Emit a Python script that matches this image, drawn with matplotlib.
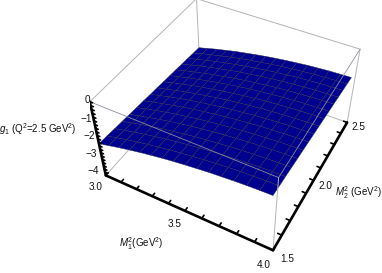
import numpy as np
import matplotlib
matplotlib.use("Agg")
import matplotlib.pyplot as plt

plt.rcParams["font.family"] = "Liberation Sans"
plt.rcParams["mathtext.fontset"] = "custom"
plt.rcParams["mathtext.rm"] = "Liberation Sans"
plt.rcParams["mathtext.it"] = "Liberation Sans:italic"

M1_MIN, M1_MAX = 3.0, 4.0
M2_MIN, M2_MAX = 1.5, 2.5
Z_MIN, Z_MAX = -4.2, 0.0
# camera found by fitting the box corners to the picture
ELEV, AZIM, ROLL = 43.85, -61.41, 0.2
FOCAL = 0.4195
Z_ASPECT = 0.542
SCALE, OFF_X, OFF_Y = 1491.9, 231.3, 159.9

m1_nodes = [3.0, 3.065, 3.13, 3.196, 3.26, 3.327, 3.392, 3.457, 3.523, 3.588, 3.653,
            3.719, 3.784, 3.849, 3.915, 3.98]
m2_nodes = [1.5, 1.567, 1.633, 1.7, 1.767, 1.833, 1.9, 1.967, 2.033, 2.1, 2.167,
            2.233, 2.3, 2.367, 2.433, 2.5]
# g1, one row per m2 node
g1_grid = [
    [-2.27, -2.13, -1.99, -1.86, -1.74, -1.63, -1.53, -1.44, -1.36, -1.29, -1.22, -1.17, -1.12, -1.08, -1.05, -1.03],
    [-2.30, -2.16, -2.02, -1.90, -1.78, -1.67, -1.57, -1.48, -1.40, -1.32, -1.26, -1.20, -1.15, -1.12, -1.09, -1.07],
    [-2.34, -2.19, -2.06, -1.93, -1.81, -1.70, -1.60, -1.51, -1.43, -1.36, -1.29, -1.24, -1.19, -1.15, -1.12, -1.10],
    [-2.37, -2.23, -2.09, -1.96, -1.84, -1.74, -1.64, -1.55, -1.47, -1.40, -1.33, -1.28, -1.23, -1.19, -1.16, -1.14],
    [-2.41, -2.27, -2.13, -2.00, -1.88, -1.77, -1.67, -1.58, -1.50, -1.43, -1.36, -1.31, -1.26, -1.22, -1.19, -1.18],
    [-2.44, -2.30, -2.16, -2.03, -1.91, -1.81, -1.71, -1.62, -1.54, -1.47, -1.40, -1.35, -1.30, -1.26, -1.23, -1.21],
    [-2.47, -2.33, -2.20, -2.07, -1.95, -1.84, -1.74, -1.65, -1.57, -1.50, -1.44, -1.38, -1.34, -1.30, -1.27, -1.25],
    [-2.51, -2.37, -2.23, -2.10, -1.98, -1.88, -1.78, -1.69, -1.61, -1.54, -1.47, -1.42, -1.37, -1.33, -1.31, -1.29],
    [-2.54, -2.40, -2.26, -2.14, -2.02, -1.91, -1.81, -1.72, -1.64, -1.57, -1.51, -1.45, -1.41, -1.37, -1.34, -1.32],
    [-2.58, -2.43, -2.30, -2.17, -2.06, -1.95, -1.85, -1.76, -1.68, -1.61, -1.54, -1.49, -1.44, -1.41, -1.38, -1.36],
    [-2.61, -2.47, -2.33, -2.21, -2.09, -1.98, -1.88, -1.79, -1.71, -1.64, -1.58, -1.52, -1.48, -1.44, -1.42, -1.40],
    [-2.64, -2.50, -2.37, -2.24, -2.13, -2.02, -1.92, -1.83, -1.75, -1.68, -1.61, -1.56, -1.52, -1.48, -1.45, -1.43],
    [-2.68, -2.54, -2.40, -2.28, -2.16, -2.05, -1.95, -1.87, -1.78, -1.71, -1.65, -1.60, -1.55, -1.52, -1.49, -1.47],
    [-2.71, -2.57, -2.44, -2.31, -2.20, -2.09, -1.99, -1.90, -1.82, -1.75, -1.69, -1.63, -1.59, -1.55, -1.52, -1.51],
    [-2.75, -2.60, -2.47, -2.35, -2.23, -2.12, -2.02, -1.94, -1.86, -1.78, -1.72, -1.67, -1.62, -1.59, -1.56, -1.54],
    [-2.78, -2.64, -2.50, -2.38, -2.26, -2.16, -2.06, -1.97, -1.89, -1.82, -1.76, -1.70, -1.66, -1.62, -1.60, -1.58],
]

m1_ticks = [3.0, 3.1, 3.2, 3.3, 3.4, 3.5, 3.6, 3.7, 3.8, 3.9, 4.0]
m2_ticks = [1.5, 1.6, 1.7, 1.8, 1.9, 2.0, 2.1, 2.2, 2.3, 2.4, 2.5]
z_ticks = [0, -0.2, -0.4, -0.6, -0.8, -1, -1.2, -1.4, -1.6, -1.8, -2, -2.2, -2.4,
           -2.6, -2.8, -3, -3.2, -3.4, -3.6, -3.8, -4]

fig = plt.figure(figsize=(3.82, 2.73), dpi=100)
side = SCALE * 0.185
left = OFF_X - SCALE * 0.095
bottom = OFF_Y - SCALE * 0.095
ax = fig.add_axes([left / 382, bottom / 273, side / 382, side / 273], projection="3d")
ax.computed_zorder = False
ax.view_init(ELEV, AZIM, ROLL)
ax.set_proj_type("persp", focal_length=FOCAL)
ax.set_box_aspect((1, 1, Z_ASPECT))
ax.set_axis_off()

GREY = "#b4b4b4"


def edge(xs, ys, zs, zorder, color=GREY, lw=0.7):
    ax.plot(xs, ys, zs, color=color, lw=lw, zorder=zorder, solid_capstyle="round")


# box edges that sit behind the surface
edge([M1_MIN, M1_MIN], [M2_MIN, M2_MAX], [Z_MIN, Z_MIN], 1)
edge([M1_MIN, M1_MAX], [M2_MAX, M2_MAX], [Z_MIN, Z_MIN], 1)
edge([M1_MIN, M1_MIN], [M2_MAX, M2_MAX], [Z_MIN, Z_MAX], 1)
edge([M1_MIN, M1_MIN], [M2_MIN, M2_MAX], [Z_MAX, Z_MAX], 1)
edge([M1_MIN, M1_MAX], [M2_MAX, M2_MAX], [Z_MAX, Z_MAX], 1)
edge([M1_MAX, M1_MAX], [M2_MAX, M2_MAX], [Z_MIN, Z_MAX], 1)

M1, M2 = np.meshgrid(m1_nodes, m2_nodes)
ax.plot_surface(M1, M2, np.array(g1_grid), rstride=1, cstride=1, color="#00008e", shade=False,
                edgecolor="#2a2a50", linewidth=0.3, zorder=2)

# box edges in front of the surface
edge([M1_MIN, M1_MAX], [M2_MIN, M2_MIN], [Z_MAX, Z_MAX], 3, "#8c8ca0", 0.6)
edge([M1_MAX, M1_MAX], [M2_MIN, M2_MAX], [Z_MAX, Z_MAX], 3, "#8c8ca0", 0.6)
edge([M1_MAX, M1_MAX], [M2_MIN, M2_MIN], [Z_MIN, Z_MAX], 3)

# heavy axes with their ticks
edge([M1_MIN, M1_MAX], [M2_MIN, M2_MIN], [Z_MIN, Z_MIN], 4, "black", 1.9)
edge([M1_MAX, M1_MAX], [M2_MIN, M2_MAX], [Z_MIN, Z_MIN], 4, "black", 1.9)
edge([M1_MIN, M1_MIN], [M2_MIN, M2_MIN], [Z_MIN, Z_MAX], 4, "black", 1.9)
for v in m1_ticks:
    edge([v, v], [M2_MIN, M2_MIN + 0.022], [Z_MIN, Z_MIN], 4, "black", 1.2)
for v in m2_ticks:
    edge([M1_MAX, M1_MAX - 0.022], [v, v], [Z_MIN, Z_MIN], 4, "black", 1.2)
for v in z_ticks:
    edge([M1_MIN, M1_MIN + 0.016], [M2_MIN, M2_MIN], [v, v], 4, "black", 1.2)

ax.set_xlim(M1_MIN, M1_MAX, view_margin=0)
ax.set_ylim(M2_MIN, M2_MAX, view_margin=0)
ax.set_zlim(Z_MIN, Z_MAX, view_margin=0)


def label(x, y, s, size=7):
    fig.text(x / 382, 1 - y / 273, s, ha="center", va="center", fontsize=size, color="#111111")


label(87, 100, "0", 7.2)
label(86, 119, "\u22121", 7.2)
label(89, 136, "\u22122", 7.2)
label(91, 154, "\u22123", 7.2)
label(93, 171, "\u22124", 7.2)
label(96, 187, "3.0", 7.2)
label(175, 224, "3.5", 7.2)
label(264, 265, "4.0", 7.2)
label(287, 259, "1.5", 7.2)
label(325, 186, "2.0", 7.2)
label(358, 127, "2.5", 7.2)
label(141, 244, r"$M_1^2$(GeV$^2$)", 7)
label(359, 193, r"$M_2^2$ (GeV$^2$)", 7)
label(38, 129, r"$g_1$ (Q$^2$=2.5 GeV$^2$)", 7)

fig.savefig("out.png", dpi=100)
